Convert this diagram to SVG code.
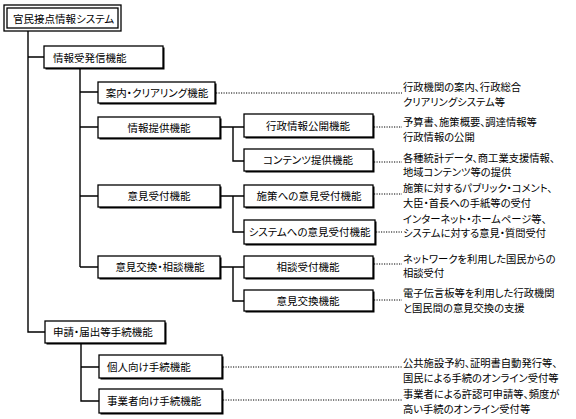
<svg xmlns="http://www.w3.org/2000/svg" width="576" height="419" viewBox="0 0 576 419">
<style>
text{font-family:"Noto Sans CJK JP","Noto Sans CJK SC",sans-serif;font-size:10.5px;fill:#000;font-feature-settings:"palt";}
.c{text-anchor:middle;}
#notes text{font-size:10.3px;}
.b{fill:#fff;stroke:#000;stroke-width:1.3;}
.s{fill:#000;}
.ln{fill:none;stroke:#000;stroke-width:1.4;}
.dt{fill:none;stroke:#000;stroke-width:1;stroke-dasharray:1.2 1.3;}
</style>
<rect width="576" height="419" fill="#fff"/>
<g id="connectors">
<path class="ln" d="M28,31V332H45M28,57H44M80,68V267M80,92H98M80,127H98M80,196H98M80,267H98M220,127H244M233,127V161H244M220,196H244M233,196V232H244M220,267H244M233,267V301H244M81,343V401H99M81,367H99"/>
<path class="dt" d="M216,93H402M374,127H402M374,162H402M374,194H402M376,232H402M374,264H402M374,300H402M223,367H402M223,400H402"/>
</g>
<g id="n0"><rect class="b" x="4" y="5" width="117" height="26" stroke-width="1.3"/><rect class="b" x="7" y="8" width="111" height="20" stroke-width="1"/><text x="13" y="22.5">官民接点情報システム</text></g>
<g id="n1"><rect class="s" x="45.5" y="47.5" width="119" height="22"/><rect class="b" x="44" y="46" width="119" height="22"/><text x="53" y="62">情報受発信機能</text></g>
<g id="n2"><rect class="s" x="99.5" y="83.5" width="117" height="21"/><rect class="b" x="98" y="82" width="117" height="21"/><text class="c" x="157" y="96.5">案内・クリアリング機能</text></g>
<g id="n3"><rect class="s" x="99.5" y="118.5" width="122" height="21"/><rect class="b" x="98" y="117" width="122" height="21"/><text class="c" x="159" y="131.5">情報提供機能</text></g>
<g id="n4"><rect class="s" x="245.5" y="115.5" width="129" height="23"/><rect class="b" x="244" y="114" width="129" height="23"/><text class="c" x="308" y="129.5">行政情報公開機能</text></g>
<g id="n5"><rect class="s" x="245.5" y="150.5" width="129" height="22"/><rect class="b" x="244" y="149" width="129" height="22"/><text class="c" x="308" y="164">コンテンツ提供機能</text></g>
<g id="n6"><rect class="s" x="99.5" y="186.5" width="122" height="22"/><rect class="b" x="98" y="185" width="122" height="22"/><text class="c" x="159" y="200">意見受付機能</text></g>
<g id="n7"><rect class="s" x="245.5" y="186.5" width="129" height="22"/><rect class="b" x="244" y="185" width="129" height="22"/><text class="c" x="309" y="200">施策への意見受付機能</text></g>
<g id="n8"><rect class="s" x="245.5" y="221.5" width="131" height="24"/><rect class="b" x="244" y="220" width="131" height="24"/><text class="c" x="309.5" y="236">システムへの意見受付機能</text></g>
<g id="n9"><rect class="s" x="99.5" y="257.5" width="122" height="22"/><rect class="b" x="98" y="256" width="122" height="22"/><text class="c" x="160" y="271">意見交換・相談機能</text></g>
<g id="n10"><rect class="s" x="245.5" y="257.5" width="129" height="22"/><rect class="b" x="244" y="256" width="129" height="22"/><text class="c" x="308" y="271">相談受付機能</text></g>
<g id="n11"><rect class="s" x="245.5" y="291.5" width="129" height="21"/><rect class="b" x="244" y="290" width="129" height="21"/><text class="c" x="308" y="304.5">意見交換機能</text></g>
<g id="n12"><rect class="s" x="46.5" y="322.5" width="120" height="22"/><rect class="b" x="45" y="321" width="120" height="22"/><text x="53" y="336">申請・届出等手続機能</text></g>
<g id="n13"><rect class="s" x="100.5" y="356.5" width="123" height="23"/><rect class="b" x="99" y="355" width="123" height="23"/><text x="107" y="370.5">個人向け手続機能</text></g>
<g id="n14"><rect class="s" x="100.5" y="390.5" width="123" height="24"/><rect class="b" x="99" y="389" width="123" height="24"/><text x="107" y="405">事業者向け手続機能</text></g>
<g id="notes">
<text x="403" y="91">行政機関の案内、行政総合</text>
<text x="403" y="106">クリアリングシステム等</text>
<text x="403" y="126">予算書、施策概要、調達情報等</text>
<text x="403" y="141">行政情報の公開</text>
<text x="403" y="162">各種統計データ、商工業支援情報、</text>
<text x="403" y="176">地域コンテンツ等の提供</text>
<text x="403" y="192">施策に対するパブリック・コメント、</text>
<text x="403" y="206.5">大臣・首長への手紙等の受付</text>
<text x="403" y="222.5">インターネット・ホームページ等、</text>
<text x="403" y="237">システムに対する意見・質問受付</text>
<text x="403" y="262.5">ネットワークを利用した国民からの</text>
<text x="403" y="277">相談受付</text>
<text x="403" y="297">電子伝言板等を利用した行政機関</text>
<text x="403" y="312">と国民間の意見交換の支援</text>
<text x="403" y="367">公共施設予約、証明書自動発行等、</text>
<text x="403" y="381.5">国民による手続のオンライン受付等</text>
<text x="403" y="398">事業者による許認可申請等、頻度が</text>
<text x="403" y="412.5">高い手続のオンライン受付等</text>
</g>
</svg>
